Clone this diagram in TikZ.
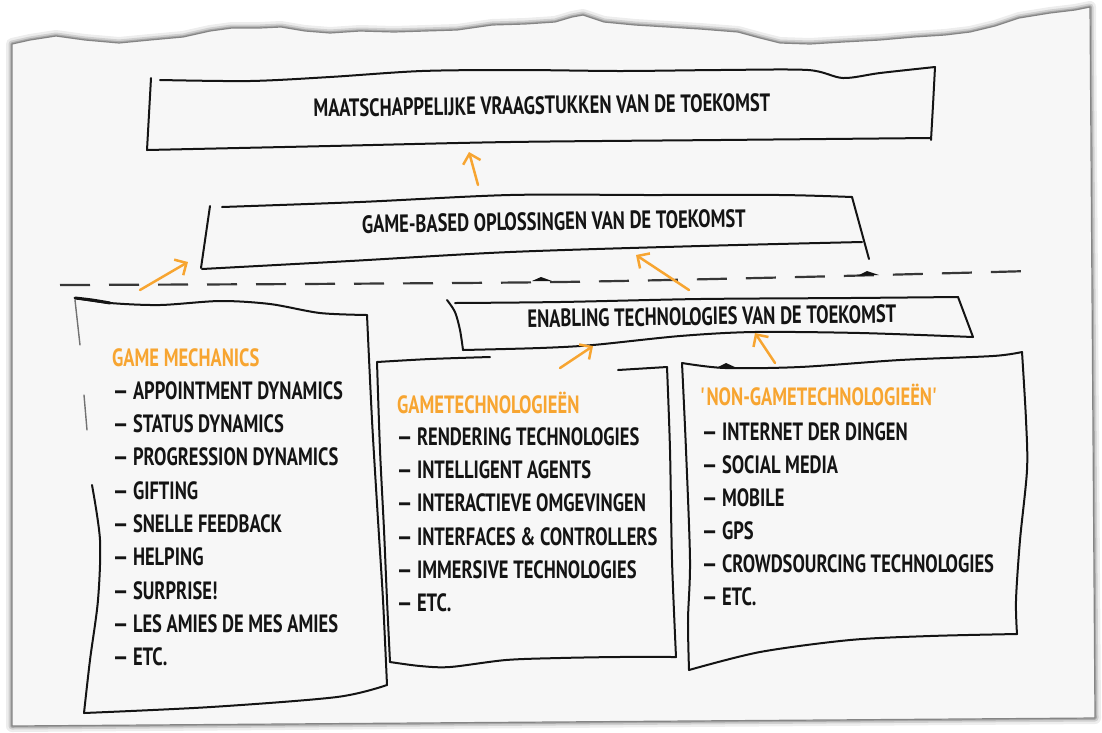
\documentclass[tikz,border=0pt]{standalone}
\usepackage{fontspec}
\setmainfont{PT Sans}[FakeStretch=0.74]
\usetikzlibrary{arrows.meta}

\definecolor{ink}{HTML}{141414}
\definecolor{marker}{HTML}{F7A531}
\definecolor{paper}{HTML}{F7F7F7}
\definecolor{rim}{HTML}{858585}

\tikzset{
  sketch/.style={draw=ink, line width=2pt, line cap=round, line join=round},
  faint/.style={draw=ink!60, line width=1.4pt, line cap=round},
  lift/.style={draw=marker, line width=2.5pt, line cap=round,
    -{Straight Barb[length=9pt,width=18pt,line width=2.5pt]}},
  hand/.style={font=\bfseries\fontsize{25}{25}\selectfont, inner sep=0pt},
  heading/.style={hand, text=marker, anchor=base west},
  entry/.style={hand, text=ink, anchor=base west},
  title/.style={hand, text=ink, anchor=base},
  divider/.style={draw=ink!85, line width=2.2pt, dash pattern=on 30pt off 19pt}
}

\begin{document}
\begin{tikzpicture}[x=1pt,y=-1pt]
\useasboundingbox (0,0) rectangle (1102,732);
\fill[white] (0,0) rectangle (1102,732);

% torn sheet of paper with a soft shadow
\def\sheet{(12,44) -- (30,40) -- (56,36) -- (85,40) -- (119,43) -- (150,40) -- (183,37) -- (210,31) -- (232,28) -- (260,28) -- (281,27) -- (305,31) -- (330,33) -- (360,31) -- (394,32) -- (425,31) -- (457,30) -- (492,25) -- (525,24) -- (555,22) -- (572,17) -- (583,15) -- (595,19) -- (604,22) -- (635,25) -- (668,27) -- (700,29) -- (738,32) -- (760,38) -- (780,43) -- (810,44) -- (843,42) -- (880,40) -- (914,37) -- (945,35) -- (970,32) -- (995,26) -- (1019,18) -- (1050,13) -- (1075,10) -- (1090,7) -- (1095,718) -- (12,726) -- cycle}
\draw[black, opacity=0.07, line width=12pt, line join=round] \sheet;
\draw[black, opacity=0.12, line width=7pt, line join=round] \sheet;
\draw[black, opacity=0.18, line width=3.5pt, line join=round] \sheet;
\fill[paper] \sheet;
\draw[rim, line width=1.2pt, line join=round] \sheet;

% dashed divider
\draw[divider] plot[smooth] coordinates {(60,285) (300,284) (560,282) (800,277) (1030,271)};
\fill[ink] (532,281) -- (541,277) -- (552,281) -- cycle;
\fill[ink] (857,276) -- (867,271) -- (879,275) -- cycle;

% top box
\draw[sketch] (151,78) -- (147,150);
\draw[sketch] plot[smooth] coordinates {(160,80) (250,81) (330,77) (422,71) (520,70) (620,71) (720,70) (808,70) (843,78) (880,73) (935,67)};
\draw[sketch] (935,67) -- (933,105) -- (931,140);
\draw[sketch] plot[smooth] coordinates {(147,150) (330,146) (510,142) (720,140) (931,138)};
\node[title, rotate=0.75] (society) at (542,114) {MAATSCHAPPELIJKE VRAAGSTUKKEN VAN DE TOEKOMST};

% middle box
\draw[sketch] (210,206) -- (201,268);
\draw[sketch] plot[smooth] coordinates {(222,207) (360,202) (510,195) (650,195) (780,195) (852,197)};
\draw[sketch] (852,197) -- (869,259);
\draw[sketch] plot[smooth] coordinates {(202,269) (350,261) (510,252) (700,246) (862,242)};
\node[title, rotate=0.9] (gamebased) at (554,230) {GAME-BASED OPLOSSINGEN VAN DE TOEKOMST};

% enabling technologies box
\draw[sketch] plot[smooth] coordinates {(447,300) (455,312) (460,330) (463,350)};
\draw[sketch] plot[smooth] coordinates {(455,303) (560,302) (700,299) (850,298) (958,297)};
\draw[sketch] (958,297) -- (973,337);
\draw[sketch] plot[smooth] coordinates {(463,350) (540,348) (593,345) (680,336) (754,332) (860,333) (973,337)};
\node[title, rotate=0.75] (enabling) at (712,325) {ENABLING TECHNOLOGIES VAN DE TOEKOMST};

% game mechanics box
\draw[sketch, line width=3pt] plot[smooth] coordinates {(75,298) (92,300) (110,303)};
\draw[sketch] plot[smooth] coordinates {(75,298) (110,303) (160,305) (220,301) (270,304) (320,313) (367,315)};
\draw[faint] (75,300) -- (80,345);
\draw[faint] (84,395) -- (87,430);
\draw[sketch] plot[smooth] coordinates {(92,485) (100,540) (98,600) (90,660) (84,713)};
\draw[sketch] plot[smooth] coordinates {(367,315) (372,420) (378,520) (383,600) (387,685)};
\draw[sketch] plot[smooth] coordinates {(84,713) (211,707) (337,697) (387,685)};

% game technologies box
\draw[sketch] plot[smooth] coordinates {(377,362) (430,359) (490,357)};
\draw[sketch] (618,370) -- (667,367);
\draw[sketch] plot[smooth] coordinates {(377,362) (380,450) (384,530) (387,600) (390,662)};
\draw[sketch] plot[smooth] coordinates {(667,367) (670,450) (672,560) (676,657)};
\draw[sketch] plot[smooth] coordinates {(390,662) (420,666) (450,667) (506,660) (560,658) (618,657) (676,657)};

% non-game technologies box
\draw[sketch] plot[smooth] coordinates {(682,363) (725,368) (800,367) (900,360) (993,356) (1022,352)};
\fill[ink] (716,368) -- (726,363) -- (737,368) -- cycle;
\draw[sketch] plot[smooth] coordinates {(682,363) (686,450) (690,560) (688,620) (689,670)};
\draw[sketch] plot[smooth] coordinates {(1022,352) (1026,420) (1027,470) (1020,540) (1016,600) (1017,634)};
\draw[sketch] plot[smooth] coordinates {(689,670) (760,652) (850,640) (930,636) (1017,634)};

% lists
\node[heading] (gmHead) at (112,366) {GAME MECHANICS};
\foreach \t [count=\i] in {APPOINTMENT DYNAMICS, STATUS DYNAMICS, PROGRESSION DYNAMICS, GIFTING, SNELLE FEEDBACK, HELPING, SURPRISE!, LES AMIES DE MES AMIES, ETC.}
  \node[entry] (gm\i) at (113,366+\i*33.3) {— \t};

\node[heading] (gtHead) at (397,413) {GAMETECHNOLOGIEËN};
\foreach \t [count=\i] in {RENDERING TECHNOLOGIES, INTELLIGENT AGENTS, INTERACTIEVE OMGEVINGEN, INTERFACES \& CONTROLLERS, IMMERSIVE TECHNOLOGIES, ETC.}
  \node[entry] (gt\i) at (397,412+\i*33.3) {— \t};

\node[heading] (ngHead) at (700,405) {\textquotesingle NON-GAMETECHNOLOGIEËN\textquotesingle};
\foreach \t [count=\i] in {INTERNET DER DINGEN, SOCIAL MEDIA, MOBILE, GPS, CROWDSOURCING TECHNOLOGIES, ETC.}
  \node[entry] (ng\i) at (702,407+\i*33) {— \t};

% arrows between the levels
\coordinate (topTail) at (478,185);
\coordinate (topHead) at (469,152);
\coordinate (gmTail) at (140,290);
\coordinate (gmHeadTip) at (188,262);
\coordinate (enTail) at (689,290);
\coordinate (enHead) at (636,255);
\coordinate (gtTail) at (560,368);
\coordinate (gtHeadTip) at (593,346);
\coordinate (ngTail) at (775,363);
\coordinate (ngHeadTip) at (755,333);
\draw[lift] (topTail) -- (topHead);
\draw[lift] (gmTail) -- (gmHeadTip);
\draw[lift] (enTail) -- (enHead);
\draw[lift] (gtTail) -- (gtHeadTip);
\draw[lift] (ngTail) -- (ngHeadTip);
\end{tikzpicture}
\end{document}
